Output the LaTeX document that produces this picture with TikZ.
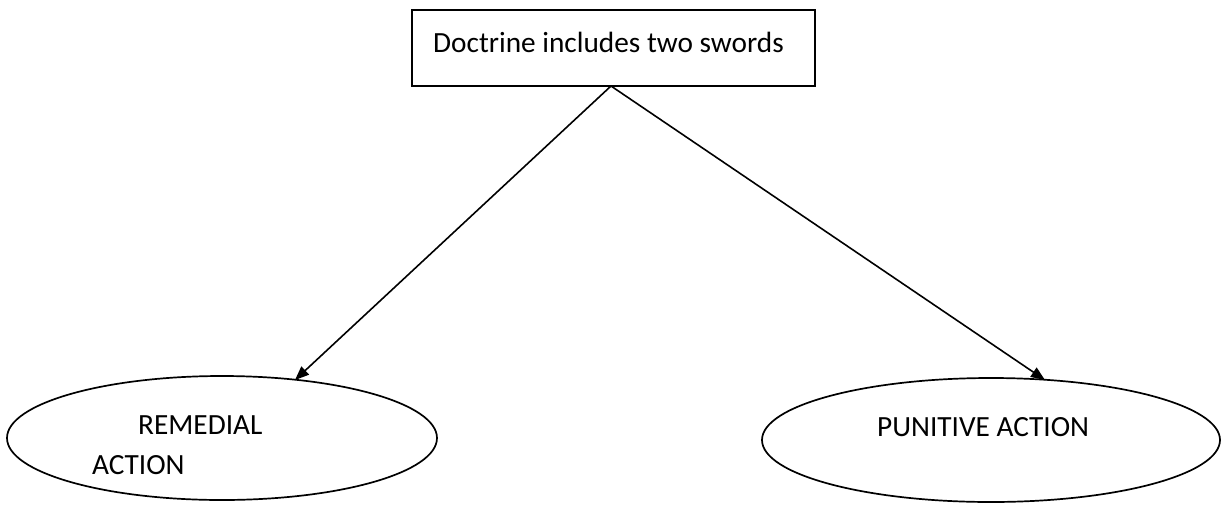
\documentclass[tikz,border=0pt]{standalone}
\usepackage{fontspec}
\setmainfont{Carlito}
\usetikzlibrary{arrows.meta,shapes.geometric}
\begin{document}
\begin{tikzpicture}[x=1pt,y=-1pt,
  box/.style={draw,line width=2pt,minimum width=403pt,minimum height=76pt,inner sep=0pt},
  oval/.style={draw,line width=1.7pt,ellipse,inner sep=0pt},
  lbl/.style={font=\fontsize{29.3}{32}\selectfont,inner sep=0pt,anchor=west},
  conn/.style={line width=1.6pt,-{Triangle[length=14pt,width=11pt]}}]
\useasboundingbox (0,0) rectangle (1221,504);
\node[box] (top) at (613.5,48) {};
\node[lbl] (toptxt) at (433,42) {Doctrine includes two swords};
\node[oval,minimum width=430pt,minimum height=124pt] (left) at (222,438) {};
\node[oval,minimum width=458pt,minimum height=124pt] (right) at (991,440) {};
\node[lbl] (rem1) at (138,425) {REMEDIAL};
\node[lbl] (rem2) at (92,465) {ACTION};
\node[lbl] (pun) at (877,427) {PUNITIVE ACTION};
\coordinate (apex) at (611,86);
\coordinate (ltip) at (295,380);
\coordinate (rtip) at (1045,380);
\draw[conn] (apex) -- (ltip);
\draw[conn] (apex) -- (rtip);
\end{tikzpicture}
\end{document}
